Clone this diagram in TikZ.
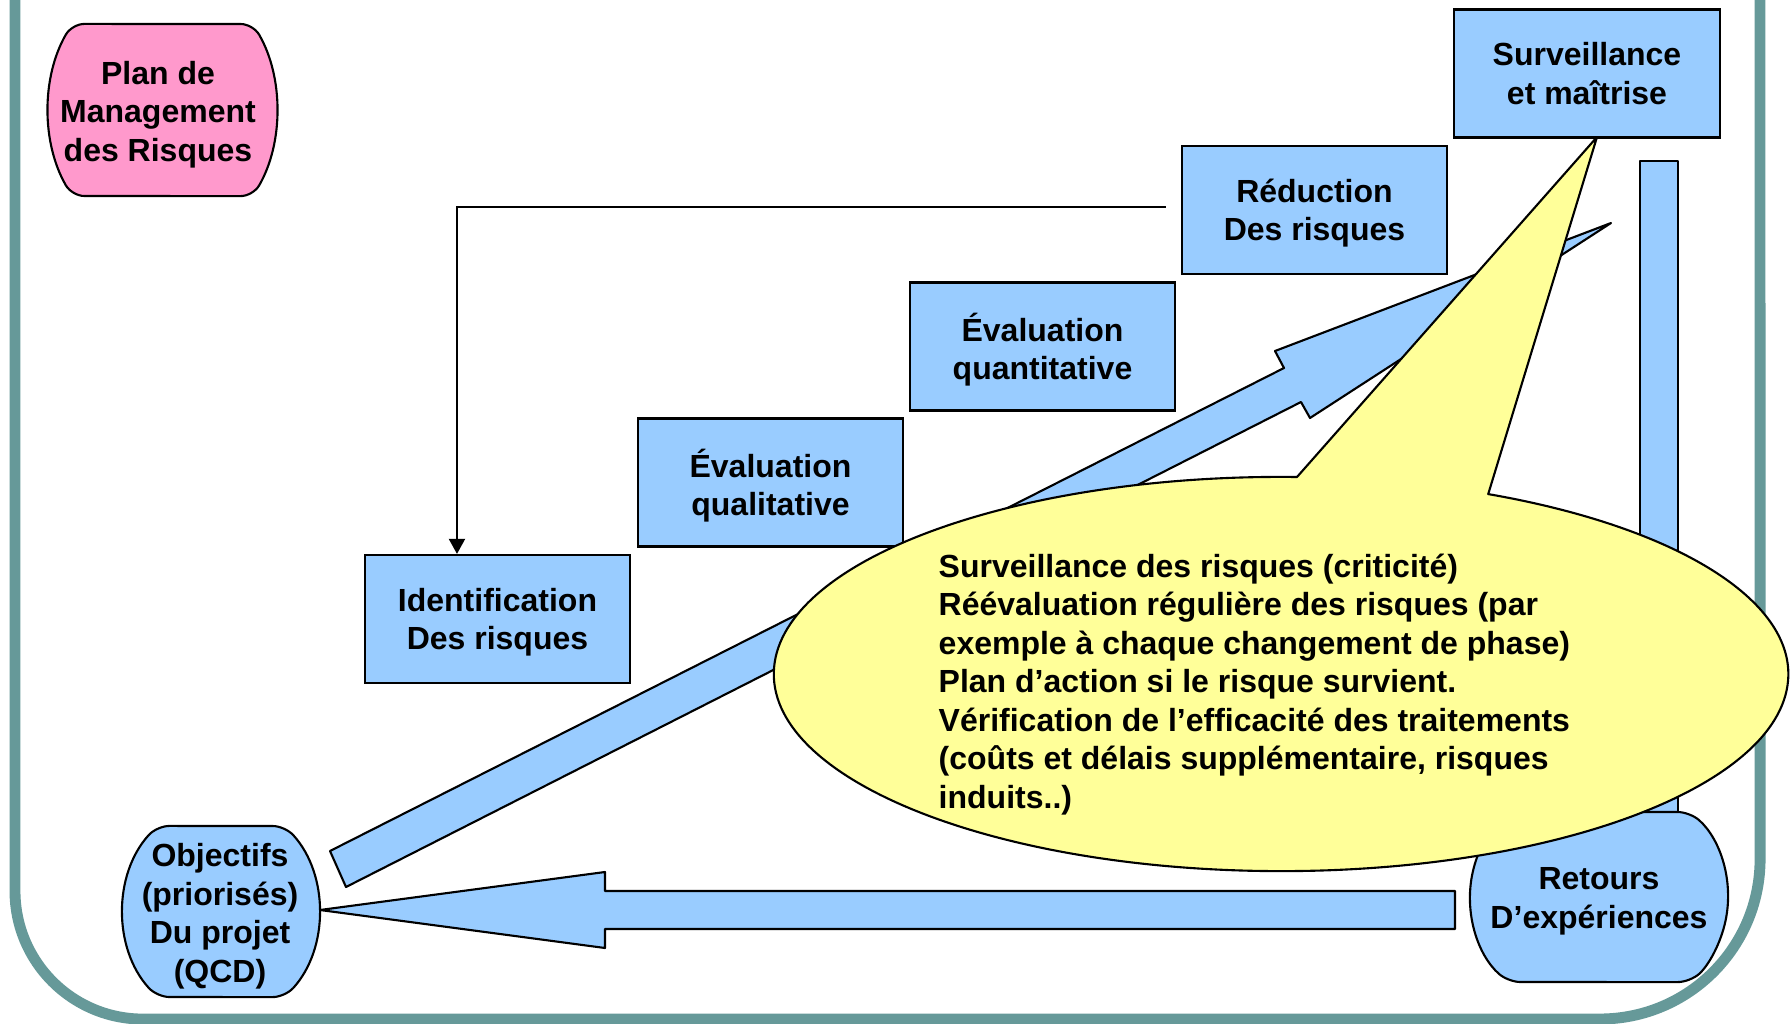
\documentclass[tikz,border=0pt]{standalone}
\usepackage{fontspec}
\setmainfont{Liberation Sans}
\usetikzlibrary{arrows.meta}
\definecolor{bleu}{HTML}{99CCFF}
\definecolor{rose}{HTML}{FF99CC}
\definecolor{jaune}{HTML}{FFFF99}
\definecolor{cadre}{HTML}{669999}
\newcommand{\barrelshape}[6]{%
  \pgfmathsetmacro{\bh}{(#5-#3)/2}%
  \pgfmathsetmacro{\bR}{(#6*#6+\bh*\bh)/(2*#6)}%
  \pgfmathsetmacro{\ba}{asin(\bh/\bR)}%
  \pgfmathsetmacro{\bRcm}{\bR/100}%
  \draw[#1, rounded corners=3.5pt] ({(#2+#4)/2},#3) -- (#4-#6,#3) arc[start angle=\ba, end angle=-\ba, radius=\bRcm cm]
    -- (#2+#6,#5) arc[start angle=180+\ba, end angle=180-\ba, radius=\bRcm cm] -- cycle;
}
\begin{document}
\begin{tikzpicture}[x=0.01cm,y=-0.01cm,
  every node/.style={font=\fontsize{9.1pt}{10.95pt}\selectfont\bfseries, align=center, inner sep=0pt},
  box/.style={draw=black, line width=0.6pt, fill=bleu, minimum width=2.65cm, minimum height=1.28cm, text depth=0pt},
  blueshape/.style={draw=black, line width=0.6pt, fill=bleu, line join=round},
  pinkshape/.style={draw=black, line width=0.6pt, fill=rose, line join=round},
  yellowshape/.style={draw=black, line width=0.6pt, fill=jaune, line join=round},
  textonly/.style={yshift=-0.045cm},
  frameline/.style={draw=cadre, line width=3.1pt},
  link/.style={line width=0.5pt, -{Triangle[length=4.3pt,width=4.6pt]}}
]
\useasboundingbox (0,0) rectangle (1790,1024);
% frame
\draw[frameline] (15,-20) -- (15,891) arc[start angle=180, end angle=270, radius=1.28cm]
  -- (1600,1019) arc[start angle=270, end angle=360, radius=1.6cm] -- (1760,-20);
% vertical bar
\draw[blueshape] (1640,161) rectangle (1678,815);
% diagonal arrow
\draw[blueshape] (330,851) -- (1284,368) -- (1275,351) -- (1611,223) -- (1310,418) -- (1301,402) -- (346,887) -- cycle;
% boxes
\node[box] (surv) at (1587,73.5) {Surveillance\\et maîtrise};
\node[box] (red) at (1314.5,210) {Réduction\\Des risques};
\node[box] (quant) at (1042.5,346.5) {Évaluation\\quantitative};
\node[box] (qual) at (770.5,482.5) {Évaluation\\qualitative};
\node[box] (ident) at (497.5,619) {Identification\\Des risques};
% horizontal arrow
\draw[blueshape] (1455,891) -- (605,891) -- (605,872) -- (320,910) -- (605,948) -- (605,929) -- (1455,929) -- cycle;
% barrels
\barrelshape{pinkshape}{49}{24}{276}{196}{23}
\node[textonly] (plan) at (158,110) {Plan de\\Management\\des Risques};
\barrelshape{blueshape}{124}{826}{318}{997}{33}
\node[textonly] (obj) at (220,911.5) {Objectifs\\(priorisés)\\Du projet\\(QCD)};
\barrelshape{blueshape}{1470}{812}{1728}{982}{38}
\node[textonly] (ret) at (1599,897) {Retours\\D’expériences};
% connector
\draw[link] ([xshift=-0.15cm,yshift=0.03cm]red.west) -| ([xshift=-0.405cm]ident.north);
% callout
\draw[yellowshape] (1297,477) arc[start angle=88.2, end angle=425.9, x radius=5.07cm, y radius=1.97cm] -- (1597,137) -- cycle;
\node[textonly, anchor=west, align=left] (note) at (938,680) {Surveillance des risques (criticité)\\Réévaluation régulière des risques (par\\exemple à chaque changement de phase)\\Plan d’action si le risque survient.\\Vérification de l’efficacité des traitements\\(coûts et délais supplémentaire, risques\\induits..)};
\end{tikzpicture}
\end{document}
